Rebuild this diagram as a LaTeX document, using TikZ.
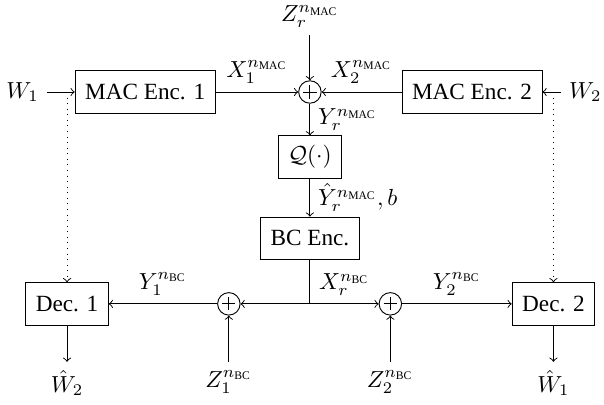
\documentclass[tikz,border=0pt]{standalone}
\usepackage{fontspec}
\setmainfont{Liberation Serif}
\usepackage{tikz}
\usetikzlibrary{positioning}

\tikzset{
  block/.style={draw, rectangle, minimum height=0.64cm, inner xsep=4.3pt},
  sum/.style={draw, circle, minimum size=0.34cm, inner sep=0pt,
    path picture={\draw[shift={(path picture bounding box.center)}]
      (-0.1,0) -- (0.1,0) (0,-0.1) -- (0,0.1);}}
}

\begin{document}
\begin{tikzpicture}
        \useasboundingbox (-4.69,1.392) rectangle (4.45,-4.736);

        % relay: MAC part
        \node[sum] (sumr) {};
        \node[block, left=1.25cm of sumr] (enc1) {MAC Enc. 1};
        \node[block, right=1.21cm of sumr] (enc2) {MAC Enc. 2};
        \node[left=0.42cm of enc1] (w1) {$W_1$};
        \node[right=0.28cm of enc2] (w2) {$W_2$};
        \node[above=0.68cm of sumr] (zr) {$Z_r^{n_\mathrm{MAC}}$};
        \node[block, below=0.48cm of sumr] (quant) {$\mathcal{Q}(\cdot)$};
        \node[block, below=0.575cm of quant] (bcenc) {BC Enc.};

        % BC part
        \coordinate[below=0.666cm of bcenc] (split);
        \node[sum, left=1.05cm of split] (sum1) {};
        \node[sum, right=1.04cm of split] (sum2) {};
        \node[block, left=1.64cm of sum1] (dec1) {Dec. 1};
        \node[block, right=1.66cm of sum2] (dec2) {Dec. 2};
        \node[below=0.70cm of sum1] (z1) {$Z_1^{n_\mathrm{BC}}$};
        \node[below=0.70cm of sum2] (z2) {$Z_2^{n_\mathrm{BC}}$};
        \node[below=0.55cm of dec1] (w2hat) {$\hat{W}_2$};
        \node[below=0.55cm of dec2] (w1hat) {$\hat{W}_1$};

        \path[->]
        (w1) edge (enc1)
        (w2) edge (enc2)
        (enc1) edge node[above] {$X_1^{n_\mathrm{MAC}}$} (sumr)
        (enc2) edge node[above] {$X_2^{n_\mathrm{MAC}}$} (sumr)
        (zr) edge (sumr)
        (sumr) edge node[right] {$Y_r^{n_\mathrm{MAC}}$} (quant)
        (quant) edge node[right] {$\hat{Y}_r^{n_\mathrm{MAC}}, b$} (bcenc)
        (split) edge (sum1)
        (split) edge node[above] {$X_r^{n_\mathrm{BC}}$} (sum2)
        (sum1) edge node[above] {$Y_1^{n_\mathrm{BC}}$} (dec1)
        (sum2) edge node[above] {$Y_2^{n_\mathrm{BC}}$} (dec2)
        (z1) edge (sum1)
        (z2) edge (sum2)
        (dec1) edge (w2hat)
        (dec2) edge (w1hat);
        \draw (bcenc) -- (split);

        \draw[->, dotted] (dec1 |- w1) -- (dec1);
        \draw[->, dotted] (dec2 |- w2) -- (dec2);
    \end{tikzpicture}
\end{document}
